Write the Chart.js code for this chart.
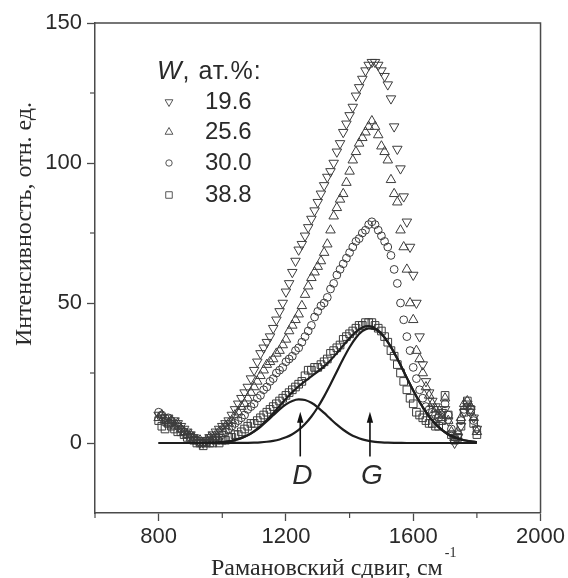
<!DOCTYPE html>
<html>
<head>
<meta charset="utf-8">
<script src="https://cdn.jsdelivr.net/npm/chart.js@4.4.1/dist/chart.umd.min.js"></script>
<style>
html,body{margin:0;padding:0;background:#fff;}
#wrap{width:568px;height:578px;position:relative;}
</style>
</head>
<body>
<div id="wrap"><canvas id="c" width="568" height="578"></canvas></div>
<script>
// ---------- data ----------
const ramanShift = [
  800,810,820,830,840,850,860,870,880,890,
  900,910,920,930,940,950,960,970,980,990,
  1000,1010,1020,1030,1040,1050,1060,1070,1080,1090,
  1100,1110,1120,1130,1140,1150,1160,1170,1180,1190,
  1200,1210,1220,1230,1240,1250,1260,1270,1280,1290,
  1300,1310,1320,1330,1340,1350,1360,1370,1380,1390,
  1400,1410,1420,1430,1440,1450,1460,1470,1480,1490,
  1500,1510,1520,1530,1540,1550,1560,1570,1580,1590,
  1600,1610,1620,1630,1640,1650,1660,1670,1680,1690,
  1700,1710,1720,1730,1740,1750,1760,1770,1780,1790,
  1800];
const w196 = [
  10,9,8,9,7,8,7,6,5,4,
  3,2,1,0,0,1,2,3,4,5,
  6,7,8,10,12,14,16,18,20,23,
  26,29,32,34,36,38,41,44,47,50,
  54,57,61,65,69,71,74,77,80,83,
  86,89,92,95,97,100,104,107,111,114,
  117,120,124,127,130,133,135,136,136,135,
  133,131,128,123,113,105,98,88,79,70,
  60,50,38,28,22,18,15,13,12,11,
  12,8,3,0,2,6,11,14,12,9,
  5];
const w256 = [
  9,10,8,7,8,6,7,5,4,3,
  3,2,1,1,0,1,2,2,3,4,
  5,6,7,8,10,11,13,14,16,18,
  20,22,24,26,28,29,30,32,33,35,
  37,40,42,44,46,49,53,56,59,61,
  63,65,68,71,76,81,84,87,89,93,
  97,101,104,107,109,111,113,115,113,110,
  106,104,101,94,89,86,76,70,62,50,
  44,33,30,25,20,17,14,12,10,9,
  16,8,4,2,4,9,14,15,13,9,
  4];
const w300 = [
  11,10,9,9,8,7,6,5,4,3,
  2,1,1,0,0,0,1,1,2,2,
  3,4,5,6,7,8,9,10,12,13,
  14,16,17,19,20,22,23,25,26,27,
  29,30,31,33,34,36,38,40,42,45,
  47,49,50,52,55,57,60,62,64,66,
  68,70,72,73,75,76,78,79,78,76,
  74,72,70,67,62,57,50,44,38,33,
  27,23,19,16,13,12,11,10,9,10,
  14,10,5,2,3,8,12,13,11,8,
  5];
const w388 = [
  8,6,5,7,6,5,4,4,3,2,
  2,1,0,0,-1,0,0,0,1,0,
  1,1,2,2,3,3,4,5,6,7,
  7,8,9,10,11,12,13,14,15,16,
  17,18,19,20,21,22,24,26,26,27,
  27,28,29,30,32,33,34,35,37,38,
  39,40,41,42,42,43,43,43,42,41,
  40,38,36,33,31,28,25,22,19,16,
  14,11,10,9,8,7,7,6,6,8,
  17,10,3,1,2,6,11,15,12,7,
  3];
const fitShift = [
  800,820,840,860,880,900,920,940,960,980,
  1000,1020,1040,1060,1080,1100,1120,1140,1160,1180,
  1200,1220,1240,1260,1280,1300,1320,1340,1360,1380,
  1400,1420,1440,1460,1480,1500,1520,1540,1560,1580,
  1600,1620,1640,1660,1680,1700,1720,1740,1760,1780,
  1800];
const bandD = [
  0,0,0,0,0,0,0,0,0.09,0.17,
  0.33,0.61,1.06,1.75,2.74,4.09,5.78,7.76,9.89,11.98,
  13.77,15.03,15.58,15.34,14.35,12.74,10.74,8.6,6.54,4.73,
  3.24,2.11,1.31,0.77,0.43,0.23,0.11,0.05,0.02,0,
  0,0,0,0,0,0,0,0,0,0,
  0];
const bandG = [
  0,0,0,0,0,0,0,0,0,0,
  0,0,0.02,0.04,0.07,0.14,0.25,0.44,0.76,1.26,
  2.02,3.13,4.68,6.77,9.46,12.76,16.65,20.98,25.56,30.08,
  34.21,37.59,39.92,40.96,40.61,38.9,36.01,32.22,27.85,23.26,
  18.77,14.64,11.03,8.03,5.65,3.85,2.53,1.6,0.98,0.58,
  0.33];
const bandSum = [
  0,0,0,0,0,0,0,0,0.09,0.17,
  0.33,0.61,1.08,1.79,2.81,4.23,6.03,8.2,10.65,13.24,
  15.79,18.16,20.26,22.11,23.81,25.5,27.39,29.58,32.1,34.81,
  37.45,39.7,41.23,41.73,41.04,39.13,36.12,32.27,27.87,23.26,
  18.77,14.64,11.03,8.03,5.65,3.85,2.53,1.6,0.98,0.58,
  0.33];
const seriesLabels = ['19.6','25.6','30.0','38.8'];
const xTickLabels = [800,1200,1600,2000];
const yTickLabels = [0,50,100,150];
const bandNames = ['D','G'];
const bandCenters = [1245,1464];

// ---------- styles ----------
const ink = '#2a2a2a';
const axisInk = '#4a4a4a';
const markerInk = '#3c3c3c';
const styles = [
  {pointStyle:'triangle', rotation:180, radius:5.5, lr:4.5},
  {pointStyle:'triangle', rotation:0, radius:5.5, lr:4.5},
  {pointStyle:'circle', rotation:0, radius:3.9, lr:3.2},
  {pointStyle:'rect', rotation:0, radius:5.4, lr:4.6}
];
const pts = (xs, ys) => xs.map((x,i)=>({x:x, y:ys[i]}));
const seriesValues = [w196, w256, w300, w388];

const datasets = [];
seriesValues.forEach((vals, i) => {
  datasets.push({
    label: seriesLabels[i],
    data: pts(ramanShift, vals),
    showLine: false,
    pointStyle: styles[i].pointStyle,
    rotation: styles[i].rotation,
    pointRadius: styles[i].radius,
    pointBorderWidth: 1,
    pointBorderColor: markerInk,
    pointBackgroundColor: 'rgba(0,0,0,0)',
    order: 2
  });
});
[bandD, bandG, bandSum].forEach((vals, i) => {
  datasets.push({
    label: ['D','G','D+G'][i],
    data: pts(fitShift, vals),
    showLine: true,
    pointRadius: 0,
    borderColor: '#1e1e1e',
    borderWidth: 2.2,
    cubicInterpolationMode: 'monotone',
    fill: false,
    order: 1
  });
});

const SANS = "'Liberation Sans', Arial, sans-serif";
const SERIF = "'Liberation Serif', 'Times New Roman', serif";

const decor = {
  id: 'decor',
  afterDatasetsDraw(chart) {
    const {ctx, scales:{x, y}, chartArea:a} = chart;
    ctx.save();
    // frame top & right
    ctx.strokeStyle = axisInk; ctx.lineWidth = 1.5;
    ctx.beginPath();
    ctx.moveTo(a.left, a.top); ctx.lineTo(a.right, a.top); ctx.lineTo(a.right, a.bottom);
    ctx.stroke();
    // minor ticks
    ctx.lineWidth = 1.2;
    [600,1000,1400,1800].forEach(v => {
      const px = x.getPixelForValue(v);
      ctx.beginPath(); ctx.moveTo(px, a.bottom); ctx.lineTo(px, a.bottom + 5); ctx.stroke();
    });
    [25,75,125].forEach(v => {
      const py = y.getPixelForValue(v);
      ctx.beginPath(); ctx.moveTo(a.left, py); ctx.lineTo(a.left - 5, py); ctx.stroke();
    });
    // arrows + band labels
    ctx.strokeStyle = '#111'; ctx.fillStyle = '#111'; ctx.lineWidth = 1.6;
    bandCenters.forEach((c, i) => {
      const px = x.getPixelForValue(c);
      const y0 = y.getPixelForValue(-4.8);
      const y1 = y.getPixelForValue(11.2);
      ctx.beginPath(); ctx.moveTo(px, y0); ctx.lineTo(px, y1 + 8); ctx.stroke();
      ctx.beginPath(); ctx.moveTo(px, y1); ctx.lineTo(px - 3.2, y1 + 11); ctx.lineTo(px + 3.2, y1 + 11); ctx.closePath(); ctx.fill();
      ctx.font = "italic 28px " + SANS;
      ctx.textAlign = 'center'; ctx.textBaseline = 'middle';
      ctx.fillStyle = ink;
      ctx.fillText(bandNames[i], px + 2, y.getPixelForValue(-12));
      ctx.fillStyle = '#111';
    });
    // legend
    const lx = 157, ly = 72;
    ctx.fillStyle = ink; ctx.textBaseline = 'middle'; ctx.textAlign = 'left';
    ctx.font = "italic 26px " + SANS;
    ctx.fillText('W', lx, ly);
    const ww = ctx.measureText('W').width;
    ctx.font = "25px " + SANS;
    ctx.letterSpacing = '1px';
    ctx.fillText(', ат.%:', lx + ww + 1, ly);
    ctx.letterSpacing = '0px';
    ctx.font = "24px " + SANS;
    const rows = [102, 132, 163, 195];
    seriesLabels.forEach((lab, i) => {
      ctx.fillStyle = ink;
      ctx.fillText(lab, 205, rows[i]);
      ctx.lineWidth = 1;
      ctx.strokeStyle = '#555';
      ctx.fillStyle = 'rgba(0,0,0,0)';
      Chart.helpers.drawPoint(ctx, {pointStyle: styles[i].pointStyle, rotation: styles[i].rotation, radius: styles[i].lr, borderWidth: 1}, 169, rows[i]);
    });
    // axis titles
    ctx.fillStyle = ink;
    ctx.font = "24px " + SERIF;
    ctx.textAlign = 'left'; ctx.textBaseline = 'alphabetic';
    const xt = 'Рамановский сдвиг, см';
    ctx.fillText(xt, 211, 575);
    const xw = ctx.measureText(xt).width;
    ctx.font = "14px " + SERIF;
    ctx.fillText('-1', 211 + xw + 2, 557);
    ctx.save();
    ctx.translate(31, 224);
    ctx.rotate(-Math.PI / 2);
    ctx.font = "24px " + SERIF;
    ctx.textAlign = 'center';
    ctx.fillText('Интенсивность, отн. ед.', 0, 0);
    ctx.restore();
    ctx.restore();
  }
};

new Chart(document.getElementById('c'), {
  type: 'scatter',
  data: {datasets},
  options: {
    responsive: false,
    animation: false,
    devicePixelRatio: 1,
    layout: {padding: {top: 23, right: 24, left: 0, bottom: 0}},
    plugins: {legend: {display: false}, tooltip: {enabled: false}},
    scales: {
      x: {
        type: 'linear', min: 600, max: 2000,
        afterFit: s => { s.height = 65; },
        afterBuildTicks: s => { s.ticks = xTickLabels.map(v => ({value: v})); },
        ticks: {font: {family: SANS, size: 22}, color: ink, padding: 3, maxRotation: 0, autoSkip: false, callback: v => String(v)},
        grid: {display: true, drawOnChartArea: false, drawTicks: true, tickLength: 8, tickColor: axisInk, tickWidth: 1.3},
        border: {display: true, color: axisInk, width: 1.5}
      },
      y: {
        type: 'linear', min: -25, max: 150,
        afterFit: s => { s.width = 95; },
        afterBuildTicks: s => { s.ticks = yTickLabels.map(v => ({value: v})); },
        ticks: {font: {family: SANS, size: 22}, color: ink, padding: 5, autoSkip: false, callback: v => String(v)},
        grid: {display: true, drawOnChartArea: false, drawTicks: true, tickLength: 8, tickColor: axisInk, tickWidth: 1.3},
        border: {display: true, color: axisInk, width: 1.5}
      }
    }
  },
  plugins: [decor]
});
</script>
</body>
</html>
